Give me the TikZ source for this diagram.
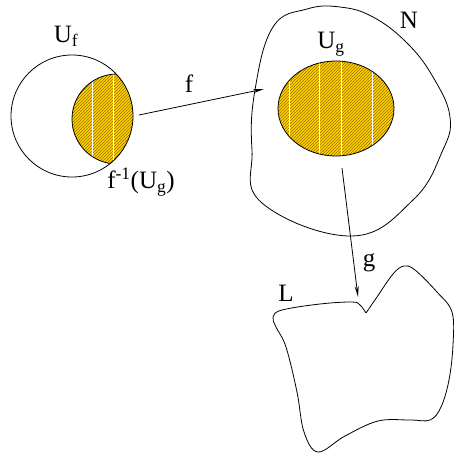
\documentclass[tikz,border=0pt]{standalone}
\usepackage{fontspec}
\setmainfont{Liberation Serif}
\usetikzlibrary{arrows.meta,patterns}
\definecolor{setGold}{RGB}{255,210,0}
\definecolor{hatchInk}{RGB}{150,112,0}

\begin{document}
\begin{tikzpicture}[x=1pt, y=-1pt,
    outline/.style={draw=black, line width=0.8pt},
    hatchFill/.style={fill=setGold, postaction={pattern=north east lines, pattern color=hatchInk}},
    gapLine/.style={draw=white, line width=0.9pt},
    labelText/.style={font=\fontsize{25}{27}\selectfont, inner sep=0pt},
    mapArrow/.style={-{Stealth[length=11pt, width=4pt]}, line width=0.8pt}
]
    \useasboundingbox (0,0) rectangle (453,453);

    % domain U_f and the preimage lens
    \begin{scope}
        \clip (72,116) circle (61);
        \path[hatchFill] (117,119) circle (45);
        \foreach \xx in {92,113}
            \draw[gapLine] (\xx,60) -- (\xx,175);
        \draw[outline] (117,119) circle (45);
    \end{scope}
    \draw[outline] (72,116) circle (61);

    % manifold N with U_g
    \draw[outline] plot[smooth cycle, tension=0.7] coordinates {
        (273,27) (307,9) (340,7) (373,17) (407,43) (433,77) (450,117)
        (442,152) (413,200) (352,236) (262,203) (252,150) (255,90)};
    \path[hatchFill] (336,108.5) ellipse (58 and 47.5);
    \begin{scope}
        \clip (336,108.5) ellipse (58 and 47.5);
        \foreach \xx in {289,319,341,372}
            \draw[gapLine] (\xx,55) -- (\xx,160);
    \end{scope}
    \draw[outline] (336,108.5) ellipse (58 and 47.5);

    % manifold L
    \draw[outline] plot[smooth, tension=0.6] coordinates {
        (366,313) (377,297) (393,274) (404,266) (415,270) (437,292) (452,312)
        (453,345) (449,380) (441,407) (430,420) (410,420) (378,421) (345,436)
        (318,452) (304,432) (297,392) (286,347) (276,327) (273,317) (282,310)
        (320,304) (352,302) (360,305) (366,313)};

    % labels
    \node[labelText] (labUf) at (66,36) {U\textsubscript{f}};
    \node[labelText] (labPre) at (141,182) {f\textsuperscript{-1}(U\textsubscript{g})};
    \node[labelText] (labUg) at (331,44) {U\textsubscript{g}};
    \node[labelText] (labN) at (409,20) {N};
    \node[labelText] (labL) at (286,293) {L};
    \node[labelText] (labF) at (189,84) {f};
    \node[labelText] (labG) at (369,263) {g};

    % maps
    \coordinate (fStart) at (139,115);
    \coordinate (fEnd) at (264,89);
    \coordinate (gStart) at (342,168);
    \coordinate (gEnd) at (358,297);
    \draw[mapArrow] (fStart) -- (fEnd);
    \draw[mapArrow] (gStart) -- (gEnd);
\end{tikzpicture}
\end{document}
